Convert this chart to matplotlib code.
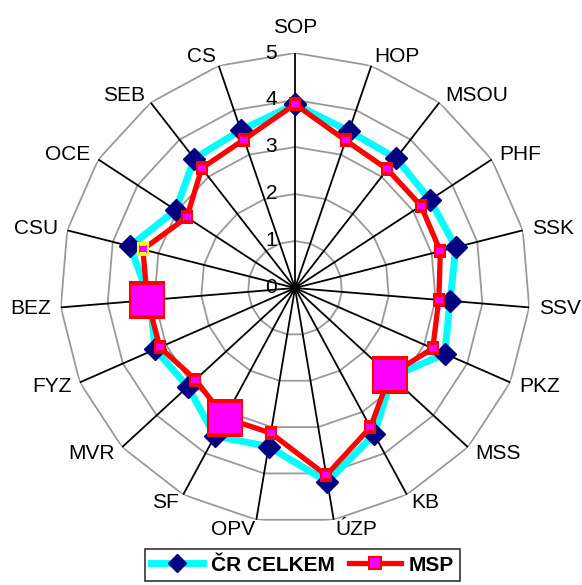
import numpy as np
import matplotlib.pyplot as plt
from matplotlib.lines import Line2D

plt.rcParams['font.family'] = ['Liberation Sans', 'DejaVu Sans']

categories = ['SOP', 'HOP', 'MSOU', 'PHF', 'SSK', 'SSV', 'PKZ', 'MSS', 'KB', 'ÚZP',
              'OPV', 'SF', 'MVR', 'FYZ', 'BEZ', 'CSU', 'OCE', 'SEB', 'CS']
cr_celkem = [3.91, 3.53, 3.50, 3.43, 3.53, 3.31, 3.48, 2.80, 3.54, 4.18,
             3.42, 3.58, 3.10, 3.25, 3.10, 3.62, 3.03, 3.49, 3.55]
msp = [3.91, 3.32, 3.20, 3.20, 3.19, 3.07, 3.20, 2.74, 3.37, 4.04,
       3.13, 3.14, 2.88, 3.14, 3.15, 3.34, 2.75, 3.23, 3.34]
big_points = ['MSS', 'SF', 'BEZ']   # highlighted MSP markers
yellow_edge = ['CSU']
ticks = [0, 1, 2, 3, 4, 5]

n = len(categories)
theta = np.linspace(0, 2 * np.pi, n, endpoint=False)
theta_c = np.append(theta, theta[0])

fig = plt.figure(figsize=(5.82, 5.85), dpi=100)
ax = fig.add_axes([0.1031, 0.106, 0.8076, 0.8034], projection='polar')
ax.set_theta_zero_location('N')
ax.set_theta_direction(-1)
ax.set_ylim(0, 5)
ax.grid(False)
ax.spines['polar'].set_visible(False)
ax.set_xticks([])
ax.set_yticks([])

# polygon grid + spokes
for r in ticks[1:]:
    ax.plot(theta_c, [r] * (n + 1), color='#999999', lw=1.3, zorder=1)
for t in theta:
    ax.plot([t, t], [0, 5], color='black', lw=1.3, zorder=2)

for r in ticks:
    ax.annotate(str(r), xy=(0, r), xytext=(-18, 0), textcoords='offset pixels',
                ha='right', va='center', fontsize=15, zorder=3)

for t, lab in zip(theta, categories):
    s = np.sin(t)
    if abs(s) < 0.05:
        ax.text(t, 5.35, lab, ha='center', va='bottom', fontsize=15)
    else:
        ax.text(t, 5.2, lab, ha='left' if s > 0 else 'right', va='center', fontsize=15)

cr_c = cr_celkem + [cr_celkem[0]]
msp_c = msp + [msp[0]]
ax.plot(theta_c, cr_c, color='#00FFFF', lw=5, marker='D', ms=11,
        mfc='#000080', mec='#000080', zorder=4)

small_idx = [i for i, c in enumerate(categories) if c not in big_points]
big_idx = [i for i, c in enumerate(categories) if c in big_points]
ax.plot(theta_c, msp_c, color='#FF0000', lw=3.8, marker='s', ms=7,
        mfc='#FF00FF', mec='#FF0000', mew=1.5, markevery=small_idx, zorder=5)
ax.plot(theta[big_idx], np.array(msp)[big_idx], ls='none', marker='s', ms=24,
        mfc='#FF00FF', mec='#FF0000', mew=1.5, zorder=6)
ye_idx = [i for i, c in enumerate(categories) if c in yellow_edge]
ax.plot(theta[ye_idx], np.array(msp)[ye_idx], ls='none', marker='s', ms=7,
        mfc='#FF00FF', mec='#FFFF00', mew=1.5, zorder=6)

handles = [
    Line2D([], [], color='#00FFFF', lw=5, marker='D', ms=9, mfc='#000080', mec='#000080'),
    Line2D([], [], color='#FF0000', lw=3.8, marker='s', ms=8, mfc='#FF00FF', mec='#FF0000', mew=1.5),
]
leg = fig.legend(handles, ['ČR CELKEM', 'MSP'], loc='lower center', ncol=2,
                 bbox_to_anchor=(0.52, 0.007), borderaxespad=0, frameon=True,
                 fancybox=False, edgecolor='black', handlelength=2.5,
                 handletextpad=0.35, columnspacing=0.7, borderpad=0.3,
                 prop={'weight': 'bold', 'size': 15})
leg.get_frame().set_linewidth(1.2)

fig.savefig('out.png', dpi=100)
